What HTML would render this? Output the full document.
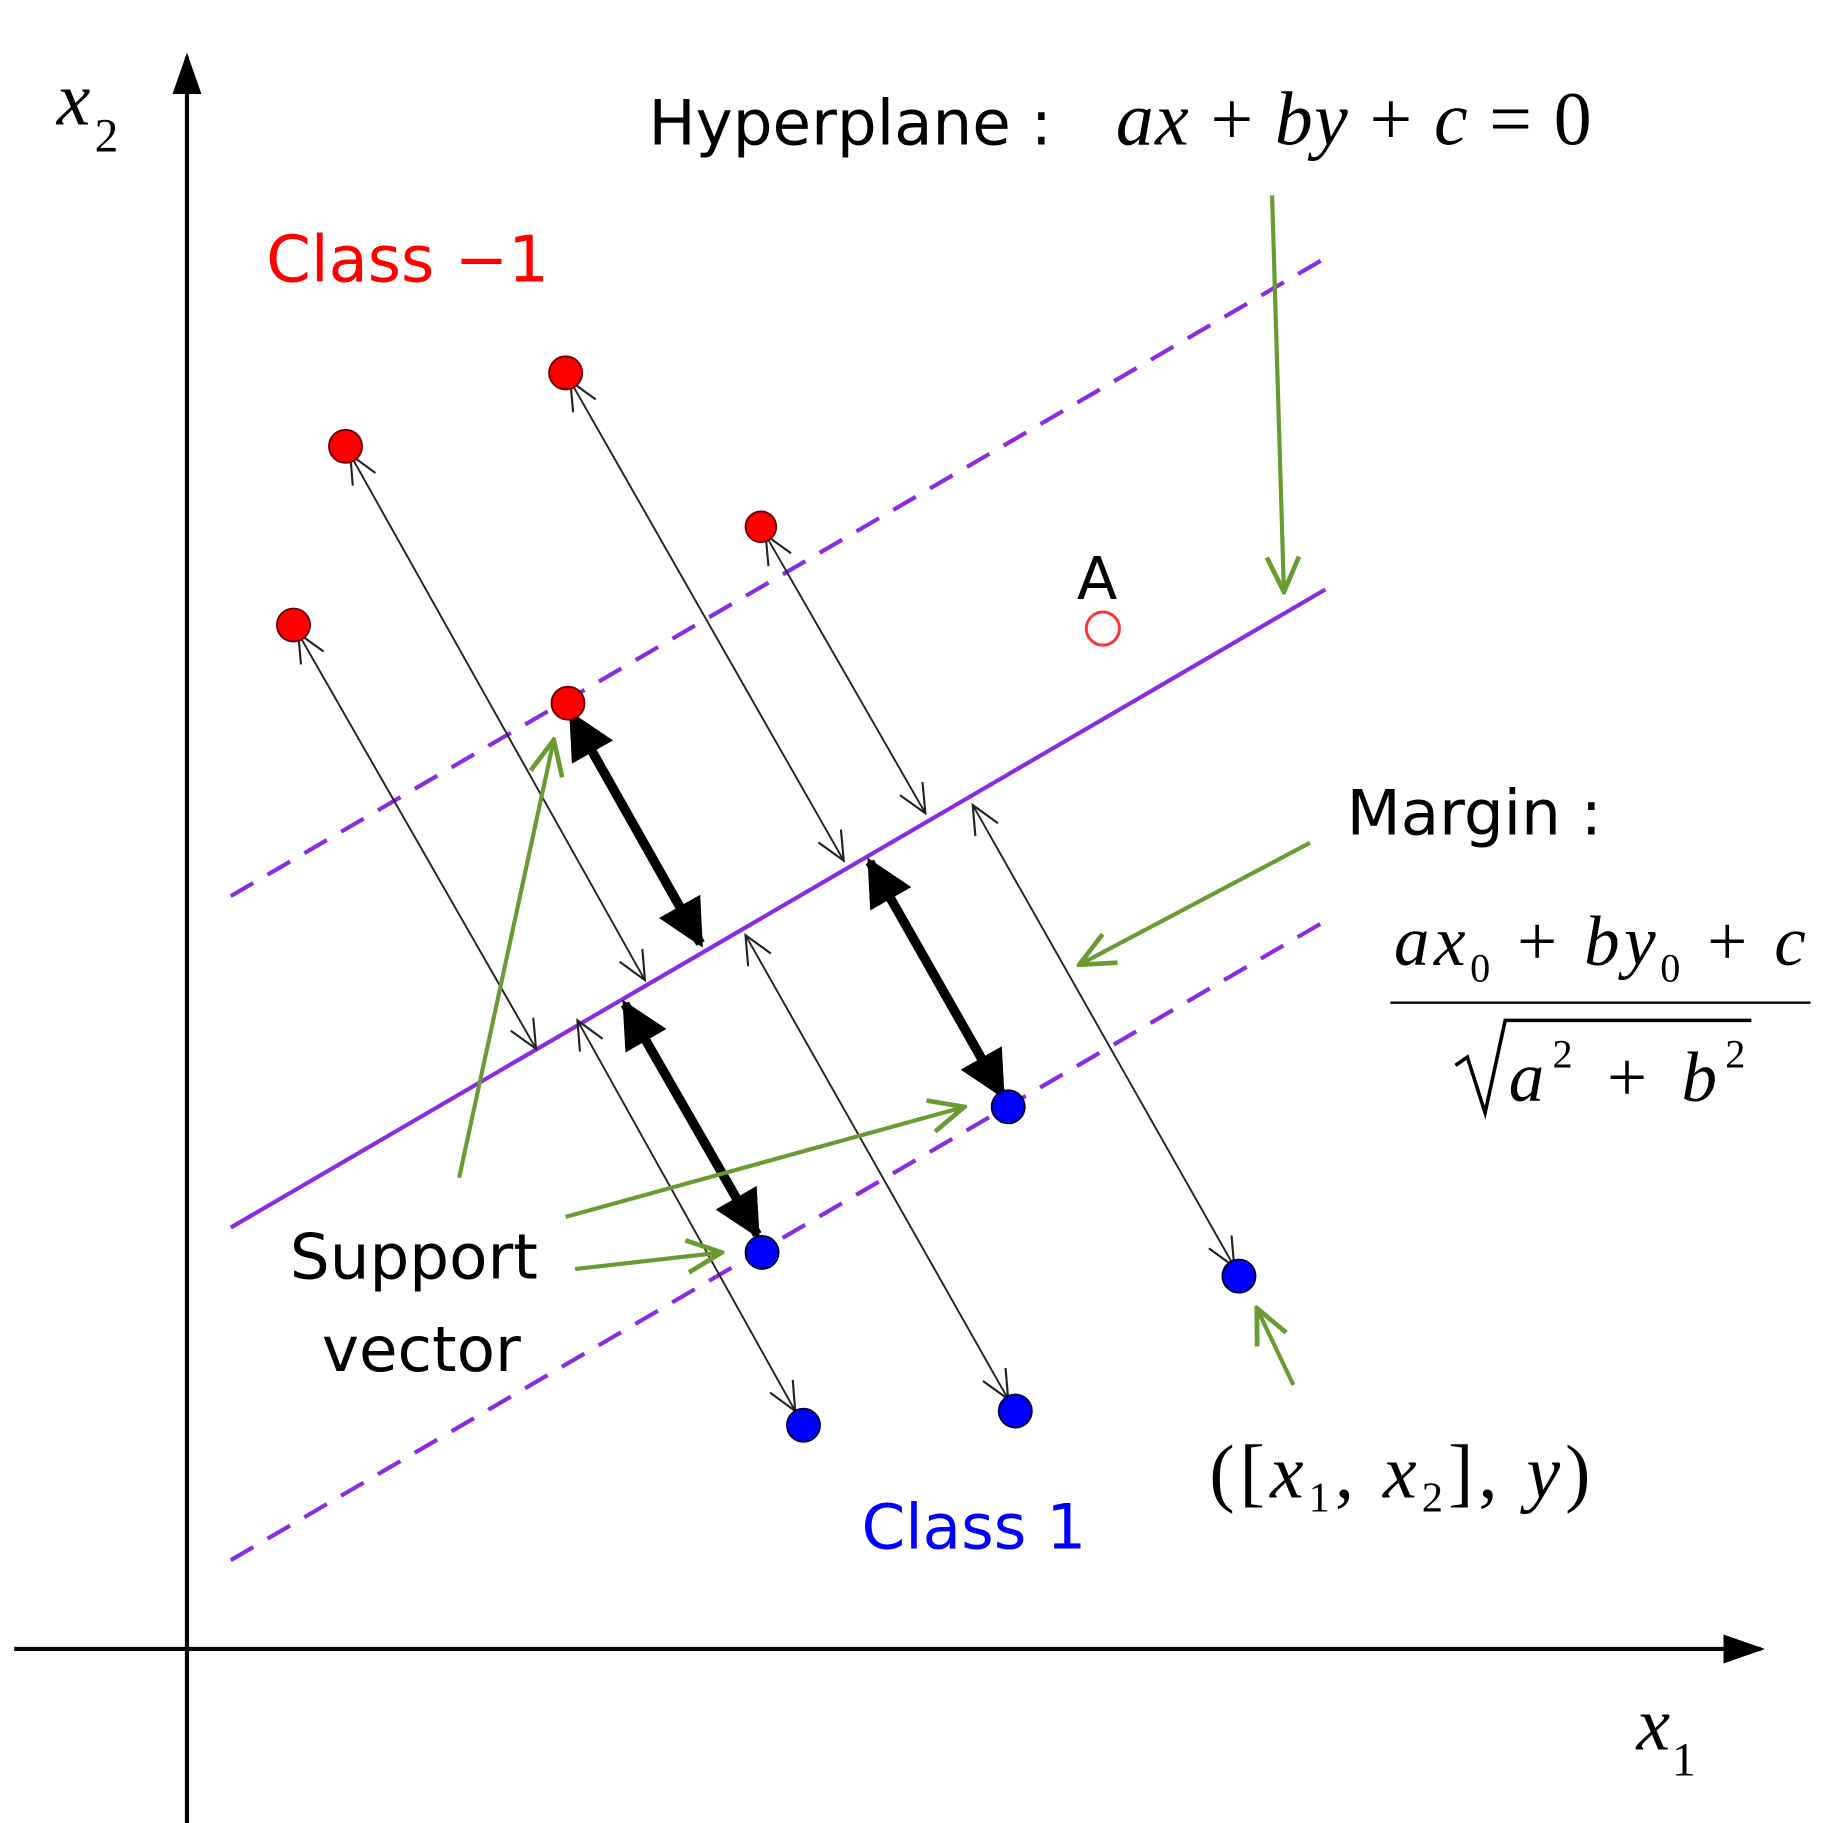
<!DOCTYPE html>
<html><head><meta charset="utf-8"><style>
html,body{margin:0;padding:0;background:#fff;}
svg{display:block;}
.s{font-family:"DejaVu Sans","Liberation Sans",sans-serif;}
.m{font-family:"Liberation Serif",serif;font-style:italic;}
.u{font-style:normal;}
</style></head><body>
<svg width="1846" height="1823" viewBox="0 0 1560 1540" preserveAspectRatio="none" xmlns="http://www.w3.org/2000/svg">
<defs>
<marker id="oa" viewBox="0 0 30 30" refX="28" refY="15" markerWidth="30" markerHeight="30" markerUnits="userSpaceOnUse" orient="auto-start-reverse">
<path d="M4,4 L28,15 L4,26" fill="none" stroke="#222" stroke-width="1.8"/></marker>
<marker id="ga" viewBox="0 0 30 30" refX="28" refY="15" markerWidth="34" markerHeight="34" markerUnits="userSpaceOnUse" orient="auto">
<path d="M2,3 L28,15 L2,27" fill="none" stroke="#6a9a32" stroke-width="3.5"/></marker>
<marker id="ta" viewBox="0 0 10 10" refX="9" refY="5" markerWidth="5" markerHeight="5" orient="auto-start-reverse">
<path d="M0,0 L10,5 L0,10 z" fill="#000"/></marker>
<marker id="ax" viewBox="0 0 10 10" refX="9" refY="5" markerWidth="10" markerHeight="10" orient="auto">
<path d="M0,1.5 L10,5 L0,8.5 z" fill="#000"/></marker>
</defs>
<line x1="158" y1="1540" x2="158" y2="48" stroke="#000" stroke-width="3.5" marker-end="url(#ax)"/>
<line x1="12" y1="1393" x2="1488" y2="1393" stroke="#000" stroke-width="3.5" marker-end="url(#ax)"/>
<line x1="195" y1="757" x2="1120" y2="218" stroke="#8a2be2" stroke-width="3.5" stroke-dasharray="22,14"/>
<line x1="195" y1="1037" x2="1120" y2="498" stroke="#8a2be2" stroke-width="3.5"/>
<line x1="195" y1="1318" x2="1120" y2="778" stroke="#8a2be2" stroke-width="3.5" stroke-dasharray="22,14"/>
<g stroke="#222" stroke-width="1.6" marker-start="url(#oa)" marker-end="url(#oa)">
<line x1="482" y1="322" x2="713" y2="727"/>
<line x1="296" y1="384" x2="545" y2="828"/>
<line x1="647" y1="452" x2="782" y2="687"/>
<line x1="252" y1="535" x2="453" y2="886"/>
<line x1="488" y1="862" x2="672" y2="1192"/>
<line x1="630" y1="790" x2="852" y2="1182"/>
<line x1="822" y1="680" x2="1043" y2="1070"/>
</g>
<g stroke="#000" stroke-width="8" marker-start="url(#ta)" marker-end="url(#ta)">
<line x1="483" y1="604" x2="592" y2="797"/>
<line x1="735" y1="728" x2="847" y2="925"/>
<line x1="528" y1="848" x2="640" y2="1043"/>
</g>
<g stroke="#6a9a32" stroke-width="3.5" fill="none" marker-end="url(#ga)">
<line x1="1075" y1="165" x2="1085" y2="500"/>
<line x1="1107" y1="712" x2="912" y2="815"/>
<line x1="388" y1="995" x2="468" y2="625"/>
<line x1="478" y1="1028" x2="815" y2="935"/>
<line x1="486" y1="1072" x2="610" y2="1058"/>
<line x1="1093" y1="1170" x2="1062" y2="1105"/>
</g>
<g fill="#f00" stroke="#600" stroke-width="1.5">
<circle cx="478" cy="315" r="14"/><circle cx="292" cy="377" r="14"/>
<circle cx="643" cy="445" r="13"/><circle cx="248" cy="528" r="14"/>
<circle cx="480" cy="594" r="14"/>
</g>
<circle cx="932" cy="531" r="14" fill="none" stroke="#f33" stroke-width="2.5"/>
<g fill="#0000ff" stroke="#002" stroke-width="1.5">
<circle cx="852" cy="935" r="14"/><circle cx="644" cy="1058" r="14"/>
<circle cx="1047" cy="1078" r="14"/><circle cx="679" cy="1204" r="14"/>
<circle cx="858" cy="1192" r="14"/>
</g>
<text class="m" x="48" y="105" font-size="64">x</text><text class="m u" x="80" y="128" font-size="40">2</text>
<text class="m" x="1383" y="1478" font-size="64">x</text><text class="m u" x="1413" y="1500" font-size="40">1</text>
<text class="s" x="548" y="122" font-size="53">Hyperplane :</text>
<text class="m" x="943" y="122" font-size="64" textLength="402" lengthAdjust="spacing">ax <tspan class="u">+</tspan> by <tspan class="u">+</tspan> c <tspan class="u">= 0</tspan></text>
<text class="s" x="225" y="238" font-size="54" fill="#f00">Class −1</text>
<text class="s" x="910" y="506" font-size="50">A</text>
<text class="s" x="1138" y="705" font-size="53">Margin :</text>
<text class="m" x="1178" y="815" font-size="60" textLength="348" lengthAdjust="spacing">ax<tspan class="u" font-size="34" dy="14">0</tspan><tspan dy="-14" class="u"> + </tspan>by<tspan class="u" font-size="34" dy="14">0</tspan><tspan dy="-14" class="u"> + </tspan>c</text>
<line x1="1175" y1="847" x2="1530" y2="847" stroke="#000" stroke-width="2"/>
<path d="M1230,900 L1240,893 L1255,940 L1272,862 L1480,862" fill="none" stroke="#000" stroke-width="3"/>
<text class="m" x="1275" y="930" font-size="60" textLength="200" lengthAdjust="spacing">a<tspan class="u" font-size="34" dy="-28">2</tspan><tspan dy="28" class="u"> + </tspan>b<tspan class="u" font-size="34" dy="-28">2</tspan></text>
<text class="s" x="245" y="1080" font-size="53">Support</text>
<text class="s" x="272" y="1158" font-size="53">vector</text>
<text class="s" x="728" y="1308" font-size="53" fill="#0000ff">Class 1</text>
<text class="m u" x="1022" y="1265" font-size="64" textLength="322" lengthAdjust="spacing">([<tspan font-style="italic">x</tspan><tspan font-size="36" dy="12">1</tspan><tspan dy="-12">, </tspan><tspan font-style="italic">x</tspan><tspan font-size="36" dy="12">2</tspan><tspan dy="-12">], </tspan><tspan font-style="italic">y</tspan>)</text>
</svg>
</body></html>
